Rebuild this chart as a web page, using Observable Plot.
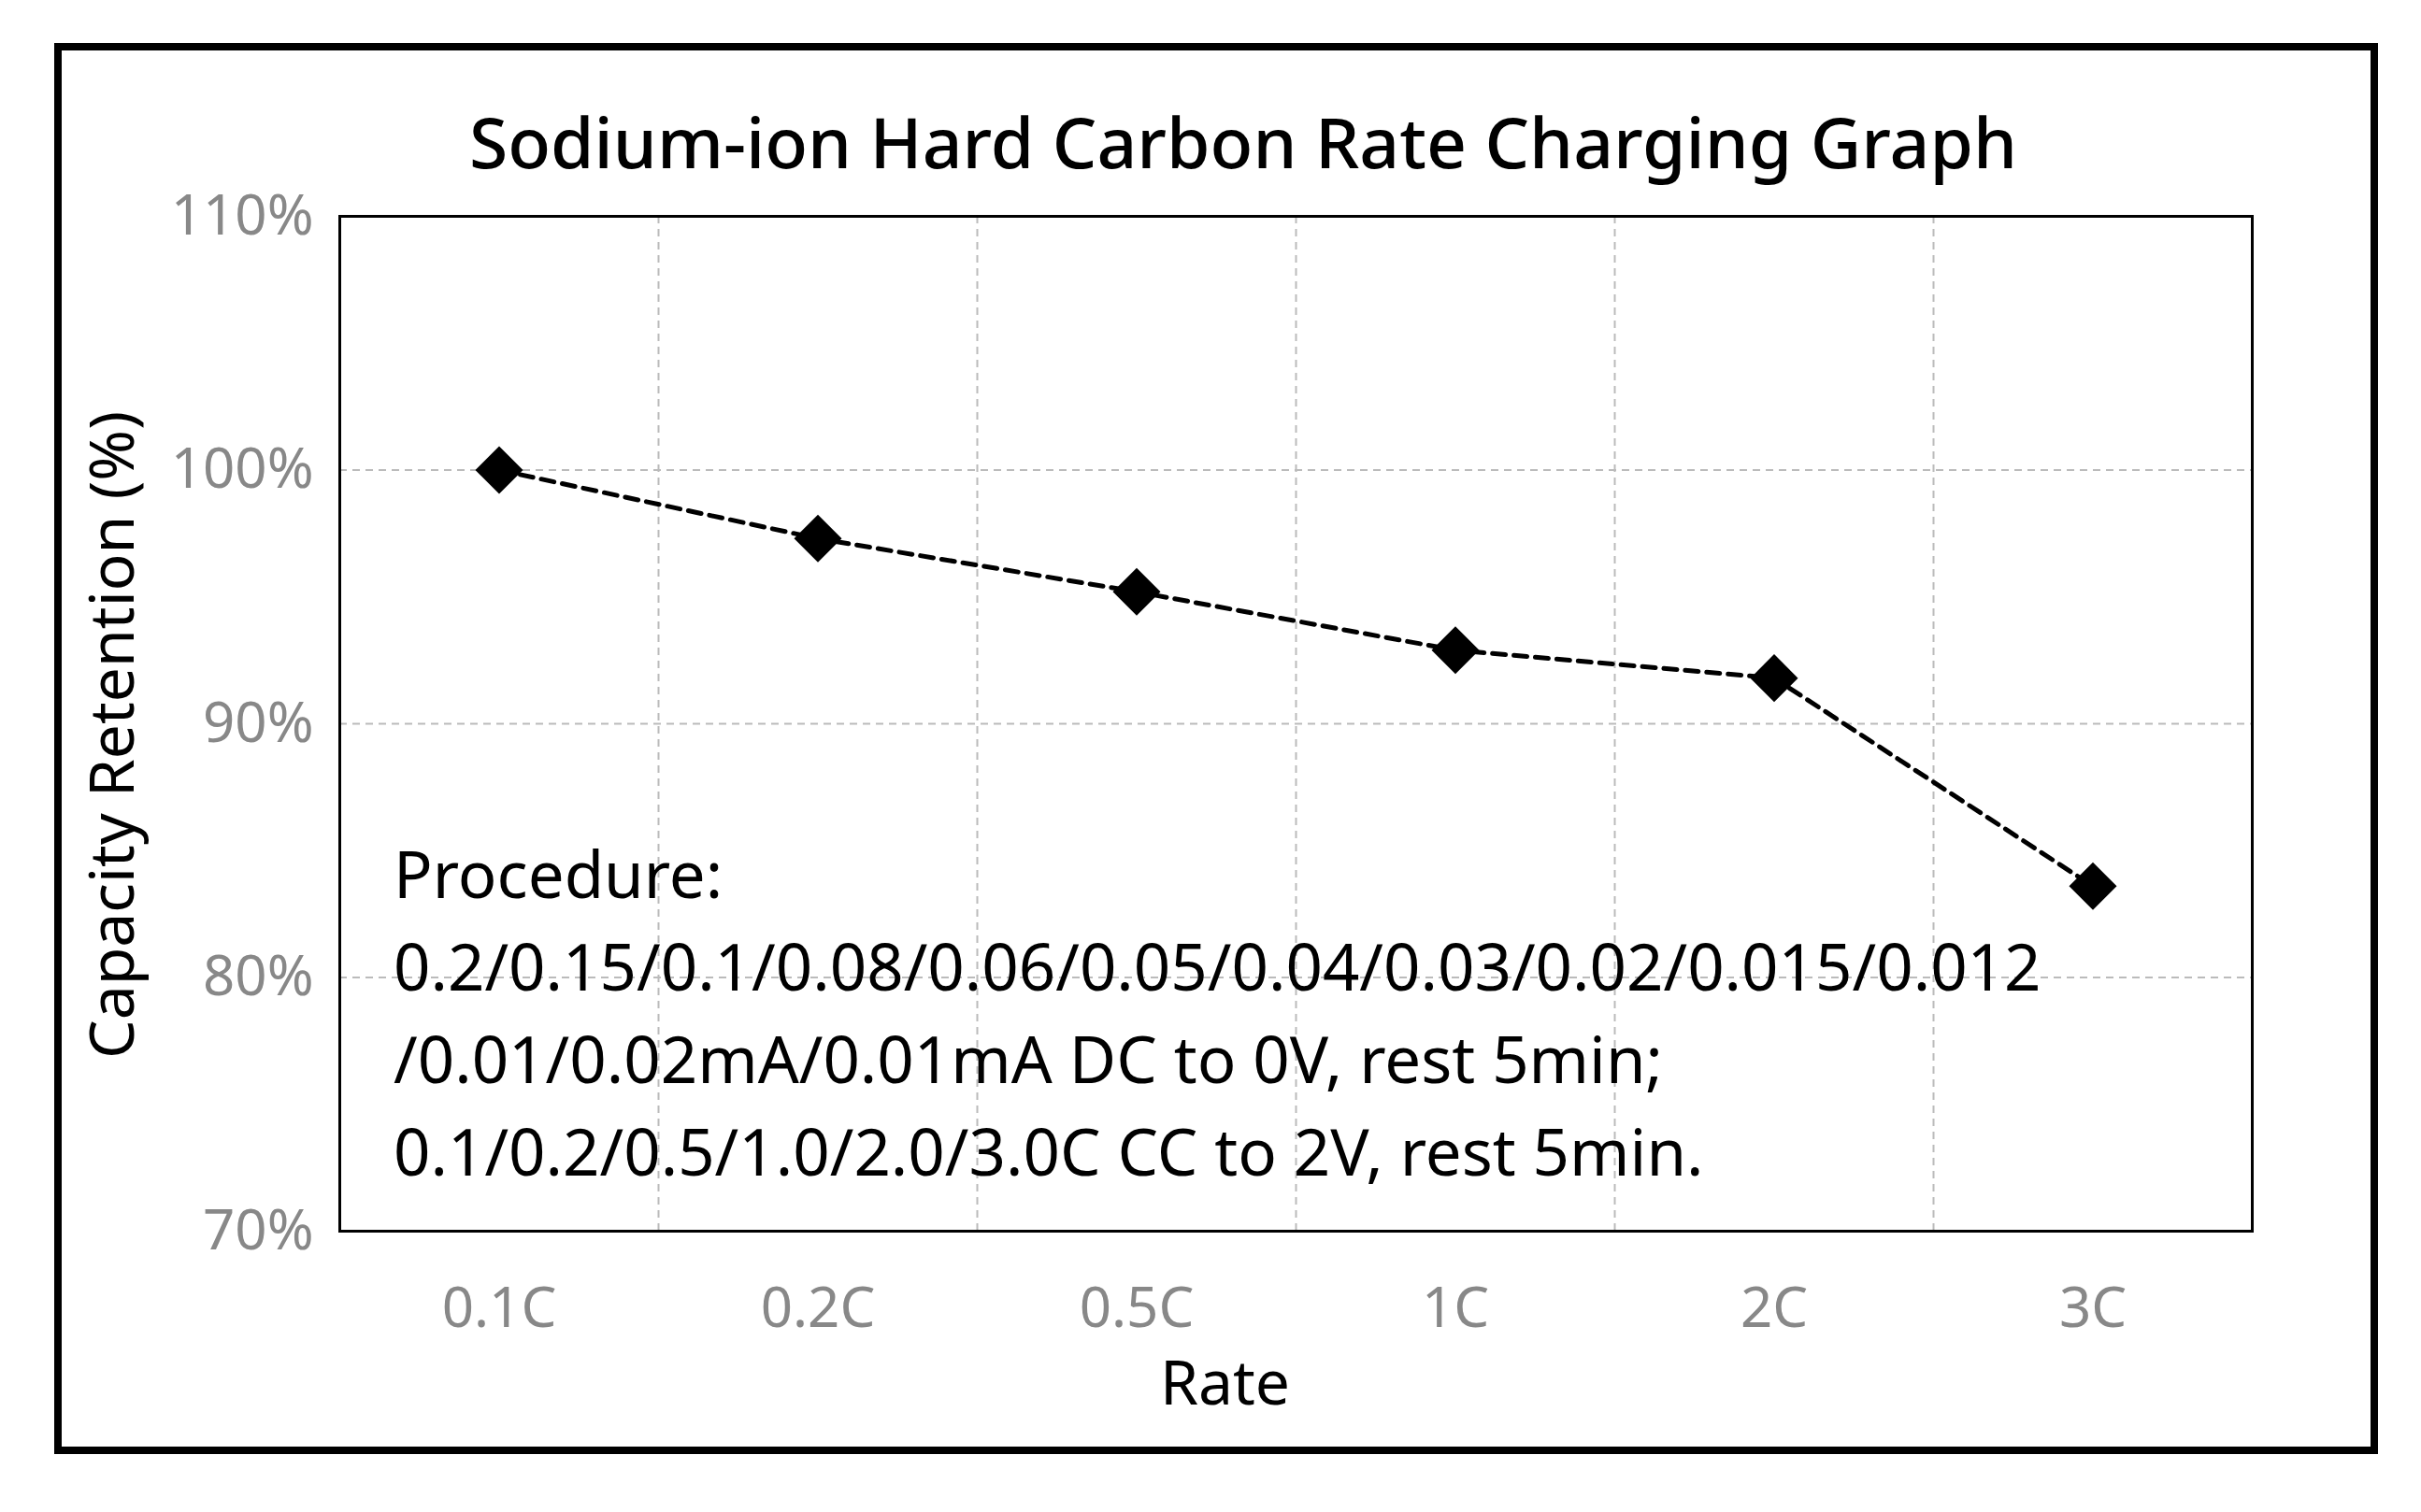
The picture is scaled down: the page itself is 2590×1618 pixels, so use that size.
<!DOCTYPE html>
<html><head><meta charset="utf-8">
<script src="https://cdn.jsdelivr.net/npm/d3@7"></script>
<script src="https://cdn.jsdelivr.net/npm/@observablehq/plot@0.6"></script>
<style>
body{margin:0;background:#fff;font-family:"Noto Sans",sans-serif;}
#wrap{position:relative;width:2590px;height:1618px;}
#frame{position:absolute;left:58px;top:46px;width:2486px;height:1510px;border:8px solid #000;box-sizing:border-box;}
#title{position:absolute;left:0;width:2660px;top:100px;text-align:center;font-size:75px;font-weight:500;color:#000;}
#proc{position:absolute;left:421px;top:885px;font-size:69px;line-height:99px;color:#000;white-space:pre;}
#chart{position:absolute;left:0;top:0;}
</style></head>
<body><div id="wrap"><div id="frame"></div><div id="chart"></div>
<div id="title">Sodium-ion Hard Carbon Rate Charging Graph</div>
<div id="proc">Procedure:
0.2/0.15/0.1/0.08/0.06/0.05/0.04/0.03/0.02/0.015/0.012
/0.01/0.02mA/0.01mA DC to 0V, rest 5min;
0.1/0.2/0.5/1.0/2.0/3.0C CC to 2V, rest 5min.</div></div>
<script>
const categories = ["0.1C","0.2C","0.5C","1C","2C","3C"];
const retention = [100, 97.3, 95.2, 92.9, 91.8, 83.6];
const yTicks = [70,80,90,100,110];
const data = categories.map((c,i)=>({i:i+0.5, c, v:retention[i]}));
const bounds = d3.range(1, categories.length);
const chart = Plot.plot({
  width:2590, height:1618,
  marginLeft:363, marginRight:181, marginTop:231, marginBottom:301,
  style:{fontFamily:"Noto Sans", background:"transparent"},
  x:{domain:[0,categories.length], label:null, axis:null},
  y:{domain:[70,110], label:null, axis:null},
  marks:[
    Plot.gridY(yTicks.slice(1,-1),{stroke:"#bbb", strokeOpacity:1, strokeWidth:2, strokeDasharray:"8,6"}),
    Plot.ruleX(bounds,{stroke:"#bbb", strokeWidth:2, strokeDasharray:"8,6"}),
    Plot.frame({stroke:"#000", strokeWidth:3}),
    Plot.axisX({ticks:data.map(d=>d.i), tickFormat:(t)=>categories[Math.floor(t)], tickSize:0, tickPadding:60, fontSize:60, fill:"#888", label:null}),
    Plot.axisY({ticks:yTicks, tickFormat:d=>d+"%", tickSize:0, tickPadding:28, fontSize:60, fill:"#888", label:null}),
    Plot.line(data,{x:"i", y:"v", stroke:"#000", strokeWidth:5, strokeDasharray:"14,9"}),
    Plot.dot(data,{x:"i", y:"v", symbol:"diamond2", r:23, fill:"#000", stroke:"none"}),
    Plot.text(["Rate"],{frameAnchor:"bottom", dy:185, dx:-76, fontSize:66, fill:"#000"}),
    Plot.text(["Capacity Retention (%)"],{frameAnchor:"left", textAnchor:"middle", dx:-242, dy:12, rotate:-90, fontSize:66, fill:"#000"})
  ]
});
document.getElementById("chart").appendChild(chart);
</script></body></html>
